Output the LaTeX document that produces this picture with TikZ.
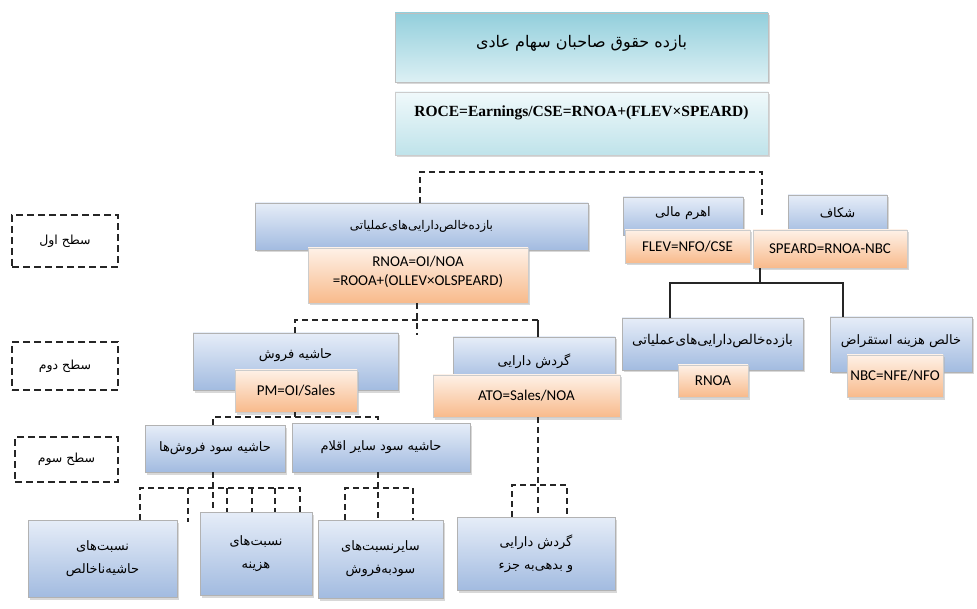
\documentclass[tikz,border=0pt]{standalone}
\usepackage{fontspec}
\setmainfont{Carlito}
\newfontfamily\fa[Script=Arabic]{DejaVu Sans}
\newfontfamily\tnr{Liberation Serif}
\TeXXeTstate=1
\usetikzlibrary{shadows}
\definecolor{tealA}{HTML}{93CFDC}
\definecolor{tealB}{HTML}{DCF0F4}
\definecolor{tealC}{HTML}{F0F9FB}
\definecolor{tealD}{HTML}{BFE3EA}
\definecolor{blueA}{HTML}{E6EDF8}
\definecolor{blueB}{HTML}{A2BBE0}
\definecolor{orA}{HTML}{FEF1E7}
\definecolor{orB}{HTML}{F8BA8B}
\newcommand{\fat}[1]{{\fa\beginR #1\endR}}
\tikzset{
  x=1pt, y=-1pt,
  shad/.style={drop shadow={shadow xshift=2pt,shadow yshift=-2.5pt,fill=black!30}},
  tealbox/.style={shad, draw=black!25, top color=tealA, bottom color=tealB, inner sep=0pt},
  tealbox2/.style={shad, draw=black!20, top color=tealC, bottom color=tealD, inner sep=0pt},
  bluebox/.style={shad, draw=black!30, top color=blueA, bottom color=blueB, inner sep=0pt},
  orbox/.style={shad, draw=black!20, top color=orA, bottom color=orB, inner sep=0pt},
  lvl/.style={draw=black!85, dash pattern=on 7pt off 4pt, line width=1.3pt, fill=white, inner sep=0pt, font=\fa\fontsize{12.5}{17}\selectfont},
  txt/.style={inner sep=0pt, align=center, text=black},
  fatxt/.style={txt, font=\fa\fontsize{13}{23}\selectfont},
  entxt/.style={txt, font=\fontsize{15}{19}\selectfont},
  dcon/.style={draw=black!85, dash pattern=on 6pt off 4pt, line width=1.3pt},
  scon/.style={draw=black!85, line width=1.2pt},
}
\begin{document}
\begin{tikzpicture}
\fill[white] (0,0) rectangle (977,609);
\useasboundingbox (0,0) rectangle (977,609);

% ---- top
\node[tealbox, minimum width=373pt, minimum height=69pt] (top1) at (581.5,47.5) {};
\node[txt, font=\fa\fontsize{16}{18}\selectfont] (ttop1) at (581.5,43) {\fat{بازده حقوق صاحبان سهام عادی}};
\node[tealbox2, minimum width=373pt, minimum height=63pt] (top2) at (581.5,123.5) {};
\node[txt, font=\tnr\bfseries\fontsize{15.5}{18}\selectfont] (ttop2) at (581.5,113) {ROCE=Earnings/CSE=RNOA+(FLEV×SPEARD)};

% ---- level labels
\node[lvl, minimum width=106pt, minimum height=52pt] (s1) at (65,241) {\fat{سطح اول}};
\node[lvl, minimum width=106pt, minimum height=48pt] (s2) at (65,366) {\fat{سطح دوم}};
\node[lvl, minimum width=103pt, minimum height=45pt] (s3) at (66.5,459.5) {\fat{سطح سوم}};

% ---- level 1
\node[bluebox, minimum width=333pt, minimum height=47pt] (L1b) at (421.5,226.5) {};
\node[fatxt, font=\fa\fontsize{12}{18}\selectfont] (tL1b) at (421.5,226) {\fat{بازده‌خالص‌دارایی‌های‌عملیاتی}};
\node[orbox, minimum width=220pt, minimum height=55pt] (L1o) at (418,275.5) {};
\node[entxt] (tL1o) at (418,272) {RNOA=OI/NOA\\=ROOA+(OLLEV×OLSPEARD)};

\node[bluebox, minimum width=120pt, minimum height=38pt] (levb) at (683,216) {};
\node[fatxt] (tlevb) at (683,213) {\fat{اهرم مالی}};
\node[orbox, entxt, minimum width=125pt, minimum height=33pt] (levo) at (687.5,246.5) {FLEV=NFO/CSE};

\node[bluebox, minimum width=99pt, minimum height=40pt] (spb) at (837.5,215) {};
\node[fatxt] (tspb) at (837.5,213) {\fat{شکاف}};
\node[orbox, entxt, minimum width=154pt, minimum height=38pt] (spo) at (830,249) {SPEARD=RNOA-NBC};

% ---- level 2
\node[bluebox, minimum width=205pt, minimum height=57pt] (pmb) at (295.5,361.5) {};
\node[fatxt] (tpmb) at (295.5,355) {\fat{حاشیه فروش}};
\node[orbox, entxt, minimum width=122pt, minimum height=42pt] (pmo) at (296,391) {PM=OI/Sales};

\node[bluebox, minimum width=162pt, minimum height=46pt] (atb) at (534,360) {};
\node[fatxt] (tatb) at (534,361) {\fat{گردش دارایی}};
\node[orbox, entxt, minimum width=187pt, minimum height=42pt] (ato) at (526.5,396) {ATO=Sales/NOA};

\node[bluebox, minimum width=181pt, minimum height=52pt] (rnb) at (712.5,344) {};
\node[fatxt, font=\fa\fontsize{13.5}{18}\selectfont] (trnb) at (712.5,341) {\fat{بازده‌خالص‌دارایی‌های‌عملیاتی}};
\node[orbox, entxt, minimum width=70pt, minimum height=32pt] (rno) at (713,381) {RNOA};

\node[bluebox, minimum width=142pt, minimum height=55pt] (nbb) at (901,344.5) {};
\node[fatxt] (tnbb) at (901,341) {\fat{خالص هزینه استقراض}};
\node[orbox, entxt, minimum width=96pt, minimum height=42pt] (nbo) at (895,376) {NBC=NFE/NFO};

% ---- level 3
\node[bluebox, fatxt, minimum width=140pt, minimum height=47pt] (spf) at (215,448.5) {\fat{حاشیه سود فروش‌ها}};
\node[bluebox, fatxt, minimum width=178pt, minimum height=49pt] (spa) at (381,447.5) {\fat{حاشیه سود سایر اقلام}};

% ---- level 4
\node[bluebox, fatxt, minimum width=149pt, minimum height=77pt] (b1) at (102.5,558.5) {\fat{نسبت‌های}\\\fat{حاشیه‌ناخالص}};
\node[bluebox, fatxt, minimum width=112pt, minimum height=83pt] (b2) at (256,553.5) {\fat{نسبت‌های}\\\fat{هزینه}};
\node[bluebox, fatxt, minimum width=125pt, minimum height=78pt] (b3) at (380.5,559) {\fat{سایرنسبت‌های}\\\fat{سودبه‌فروش}};
\node[bluebox, fatxt, minimum width=158pt, minimum height=73pt] (b4) at (536,553.5) {\fat{گردش دارایی}\\\fat{و بدهی‌به جزء}};

% ---- connectors
% top -> level 1
\coordinate (j1l) at (420,172);
\coordinate (j1r) at (762,172);
\draw[dcon] (j1l |- L1b.north) -- (j1l) -- (j1r) -- (j1r |- spb.center);

% level 1 -> level 2
\coordinate (j2) at (417,320);
\coordinate (j2e) at (417,335);
\coordinate (j2l) at (295,320);
\coordinate (j2r) at (538,320);
\draw[dcon] (L1o.south -| j2) -- (j2e);
\draw[dcon] (pmb.north -| j2l) -- (j2l) -- (j2r);
\draw[scon] (j2r) -- (j2r |- atb.north);

% spread -> rnoa, nbc
\coordinate (j3) at (760,283);
\coordinate (j3l) at (670,283);
\coordinate (j3r) at (843,283);
\draw[scon] (spo.south -| j3) -- (j3);
\draw[scon] (rnb.north -| j3l) -- (j3l) -- (j3r) -- (j3r |- nbb.north);

% PM -> level 3
\coordinate (j4) at (295,417);
\coordinate (j4l) at (213,417);
\coordinate (j4r) at (378,417);
\draw[scon] (pmo.south -| j4) -- (j4);
\draw[dcon] (spf.north -| j4l) -- (j4l) -- (j4r) -- (j4r |- spa.north);

% spf -> level 4
\coordinate (j5) at (213,488);
\coordinate (j5a) at (140,488);
\coordinate (j5b) at (188,488);
\coordinate (j5c) at (227,488);
\coordinate (j5d) at (252,488);
\coordinate (j5e) at (275,488);
\coordinate (j5f) at (300,488);
\coordinate (j5be) at (188,522);
\draw[dcon] (spf.south -| j5) -- (j5 |- b2.north);
\draw[dcon] (b1.north -| j5a) -- (j5a) -- (j5f) -- (j5f |- b2.north);
\draw[dcon] (j5b) -- (j5be);
\draw[dcon] (j5c) -- (j5c |- b2.north);
\draw[dcon] (j5d) -- (j5d |- b2.north);
\draw[dcon] (j5e) -- (j5e |- b2.north);

% spa -> b3
\coordinate (j6) at (378,488);
\coordinate (j6l) at (345,488);
\coordinate (j6r) at (413,488);
\draw[dcon] (spa.south -| j6) -- (j6 |- b3.north);
\draw[dcon] (b3.north -| j6l) -- (j6l) -- (j6r) -- (j6r |- b3.north);

% ato -> b4
\coordinate (j7) at (538,485);
\coordinate (j7l) at (512,485);
\coordinate (j7r) at (567,485);
\draw[dcon] (ato.south -| j7) -- (j7 |- b4.north);
\draw[dcon] (b4.north -| j7l) -- (j7l) -- (j7r) -- (j7r |- b4.north);
\end{tikzpicture}
\end{document}
